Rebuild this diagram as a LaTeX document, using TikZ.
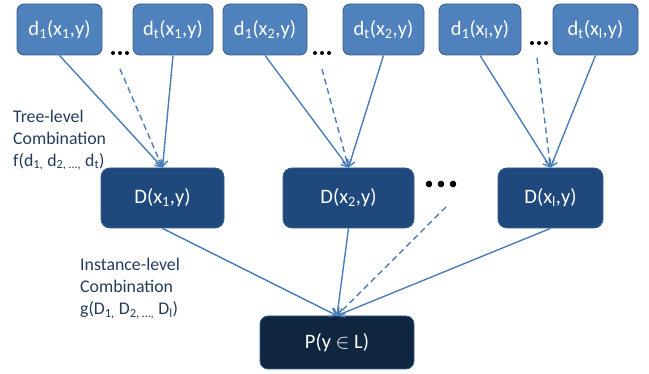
\documentclass[tikz,border=0pt]{standalone}
\usepackage{fontspec}
\setmainfont{Carlito}
\usetikzlibrary{arrows.meta}
\definecolor{topfill}{HTML}{4F81BD}
\definecolor{midfill}{HTML}{1F497D}
\definecolor{botfill}{HTML}{10253F}
\definecolor{boxline}{HTML}{385D8A}
\definecolor{arrowcol}{HTML}{4A7EBB}
\definecolor{labelcol}{HTML}{243C5C}
\tikzset{
  topbox/.style={draw=boxline, line width=0.8pt, fill=topfill, rounded corners=7pt, text=white, inner sep=0pt, minimum height=51pt, font=\fontsize{20.5}{24}\selectfont},
  midbox/.style={draw=boxline, line width=0.8pt, fill=midfill, rounded corners=9pt, text=white, inner sep=0pt, minimum height=60pt, font=\fontsize{20.5}{24}\selectfont},
  botbox/.style={draw=boxline, line width=0.8pt, fill=botfill, rounded corners=8pt, text=white, inner sep=0pt, minimum height=53pt, font=\fontsize{20.5}{24}\selectfont},
  conn/.style={draw=arrowcol, line width=1.4pt, -{Straight Barb[length=6pt,width=9pt,line width=1.4pt]}},
  dconn/.style={conn, dash pattern=on 6pt off 4pt},
  lbl/.style={text=labelcol, align=left, inner sep=0pt, anchor=west, font=\fontsize{17.8}{22}\selectfont},
  dotmark/.style={fill=black, draw=none}
}
\newcommand{\sbs}[1]{\textsubscript{#1}}
\begin{document}
\begin{tikzpicture}[x=1pt,y=-1pt]
\useasboundingbox (0,0) rectangle (649,374);
% top row
\node[topbox, minimum width=85pt] (a1) at (59.5,29.5) {d\sbs{1}(x\sbs{1},y)};
\node[topbox, minimum width=80pt] (a2) at (173,29.5) {d\sbs{t}(x\sbs{1},y)};
\node[topbox, minimum width=84pt] (b1) at (265,29.5) {d\sbs{1}(x\sbs{2},y)};
\node[topbox, minimum width=81pt] (b2) at (383.5,29.5) {d\sbs{t}(x\sbs{2},y)};
\node[topbox, minimum width=82pt] (c1) at (480,29.5) {d\sbs{1}(x\sbs{l},y)};
\node[topbox, minimum width=85pt] (c2) at (595.5,29.5) {d\sbs{t}(x\sbs{l},y)};
% middle row
\node[midbox, minimum width=123pt] (A) at (162.5,198) {D(x\sbs{1},y)};
\node[midbox, minimum width=131pt] (B) at (348.5,198) {D(x\sbs{2},y)};
\node[midbox, minimum width=105pt] (C) at (550.5,198) {D(x\sbs{l},y)};
% bottom
\node[botbox, minimum width=154pt] (P) at (337,342.5) {P(y $\in$ L)};
% dots
\foreach \x in {113,120,127} \fill[dotmark] (\x,53) circle (2pt);
\foreach \x in {315,322,329} \fill[dotmark] (\x,53) circle (2pt);
\foreach \x in {532,539,546} \fill[dotmark] (\x,43) circle (2pt);
\foreach \x in {429,441,453} \fill[dotmark] (\x,184) circle (3.3pt);
% dashed origins
\coordinate (da) at (120,69);
\coordinate (db) at (322,69);
\coordinate (dc) at (537,58);
\coordinate (dd) at (446,207);
% connectors
\draw[conn] (a1.south) -- (A.north);
\draw[conn] (a2.south) -- (A.north);
\draw[dconn] (da) -- (A.north);
\draw[conn] (b1.south) -- (B.north);
\draw[conn] (b2.south) -- (B.north);
\draw[dconn] (db) -- (B.north);
\draw[conn] (c1.south) -- (C.north);
\draw[conn] (c2.south) -- (C.north);
\draw[dconn] (dc) -- (C.north);
\draw[conn] (A.south) -- (P.north);
\draw[conn] (B.south) -- (P.north);
\draw[conn] (C.south) -- (P.north);
\draw[dconn] (dd) -- (P.north);
% labels
\node[lbl] (t1) at (13,140) {Tree-level\\Combination\\f(d\sbs{1,} d\sbs{2, …,} d\sbs{t})};
\node[lbl] (t2) at (80,288.5) {Instance-level\\Combination\\g(D\sbs{1,} D\sbs{2, …,} D\sbs{l})};
\end{tikzpicture}
\end{document}
